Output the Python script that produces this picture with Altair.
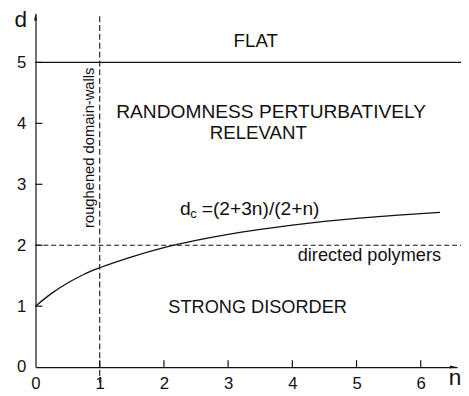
import altair as alt
import pandas as pd

# ---- data ----
n_vals = [0, 0.25, 0.5, 0.75, 1, 1.5, 2, 2.5, 3, 3.5, 4, 4.5, 5, 5.5, 6, 6.3]
dc_vals = [1.0, 1.21, 1.38, 1.52, 1.63, 1.81, 1.96, 2.08, 2.18, 2.26, 2.33, 2.39, 2.44, 2.48, 2.52, 2.54]
x_ticks = [0, 1, 2, 3, 4, 5, 6]
y_ticks = [0, 1, 2, 3, 4, 5]
flat_boundary = 5
polymer_line = 2
domain_wall_line = 1

X_MAX = 6.566
Y_MAX = 5.806
FONT = "Liberation Sans"
INK = "#111111"

xs = alt.Scale(domain=[0, X_MAX], nice=False, zero=False)
ys = alt.Scale(domain=[0, Y_MAX], nice=False, zero=False)
X_AXIS = alt.Axis(values=x_ticks, ticks=False, tickSize=0, labelPadding=9, labelFontSize=17,
                  labelFont=FONT, labelColor=INK, domainColor=INK, domainWidth=1.2,
                  grid=False, title=None, labelFlush=False, labelOverlap=False)
Y_AXIS = alt.Axis(values=y_ticks, ticks=False, tickSize=0, labelPadding=10, labelFontSize=17,
                  labelFont=FONT, labelColor=INK, domainColor=INK, domainWidth=1.2,
                  grid=False, title=None, labelFlush=False, labelOverlap=False)


def one():
    return alt.Data(values=[{"a": 1}])


def X(v):
    return alt.X(datum=v, scale=xs, axis=X_AXIS)


def Y(v):
    return alt.Y(datum=v, scale=ys, axis=Y_AXIS)


curve_df = pd.DataFrame({"n": n_vals, "d": dc_vals})
curve = alt.Chart(curve_df).mark_line(color=INK, strokeWidth=1.3, interpolate="monotone").encode(
    x=alt.X("n:Q", scale=xs, axis=X_AXIS),
    y=alt.Y("d:Q", scale=ys, axis=Y_AXIS),
)

flat_rule = alt.Chart(one()).mark_rule(color=INK, strokeWidth=1.2).encode(
    y=Y(flat_boundary), x=alt.value(0), x2=alt.value(433))
dp_rule = alt.Chart(one()).mark_rule(color=INK, strokeWidth=1.1, strokeDash=[5, 3]).encode(
    y=Y(polymer_line), x=alt.value(0), x2=alt.value(433))
dw_rule = alt.Chart(one()).mark_rule(color=INK, strokeWidth=1.1, strokeDash=[6, 3]).encode(
    x=X(domain_wall_line), y=alt.value(3), y2=alt.value(376))

# inward tick marks
ytick_df = pd.DataFrame({"v": y_ticks[1:]})
xtick_df = pd.DataFrame({"v": x_ticks[1:]})
yticks = alt.Chart(ytick_df).mark_rule(color=INK, strokeWidth=1.2).encode(
    y=alt.Y("v:Q", scale=ys, axis=Y_AXIS), x=alt.value(0), x2=alt.value(7))
xticks = alt.Chart(xtick_df).mark_rule(color=INK, strokeWidth=1.2).encode(
    x=alt.X("v:Q", scale=xs, axis=X_AXIS), y=alt.value(360), y2=alt.value(353))

# arrowheads
arrow_up = alt.Chart(one()).mark_point(shape="M0,-1L0.45,1L-0.45,1Z", filled=True, size=45,
                                        color=INK, opacity=1).encode(
    x=alt.value(0), y=alt.value(4))
arrow_right = alt.Chart(one()).mark_point(shape="M1,0L-1,0.45L-1,-0.45Z", filled=True, size=45,
                                           color=INK, opacity=1).encode(
    x=alt.value(425), y=alt.value(360))


def label(text, x, y, size=19, align="center", baseline="middle", angle=0):
    return alt.Chart(one()).mark_text(text=text, font=FONT, fontSize=size, color=INK,
                                      align=align, baseline=baseline, angle=angle).encode(
        x=X(x), y=Y(y))


texts = [
    label("FLAT", 3.43, 5.35),
    label("RANDOMNESS PERTURBATIVELY", 3.67, 4.19, size=19.5),
    label("RELEVANT", 3.47, 3.84),
    label("STRONG DISORDER", 3.46, 0.98, size=18.5),
    label("directed polymers", 5.2, 1.83, size=18.5),
    label("roughened domain-walls", 0.83, 3.6, size=15, angle=270),
    label("d", 2.25, 2.5, size=19.5, align="left", baseline="alphabetic"),
    label("c", 2.41, 2.45, size=13, align="left", baseline="alphabetic"),
    label("=(2+3n)/(2+n)", 2.59, 2.5, size=19.5, align="left", baseline="alphabetic"),
]

d_title = alt.Chart(one()).mark_text(text="d", font=FONT, fontSize=23, color=INK,
                                     align="center", baseline="middle").encode(
    x=alt.value(-15), y=alt.value(7))
n_title = alt.Chart(one()).mark_text(text="n", font=FONT, fontSize=23, color=INK,
                                     align="center", baseline="alphabetic").encode(
    x=alt.value(427), y=alt.value(378))

chart = alt.layer(
    flat_rule, dp_rule, dw_rule, curve, yticks, xticks, arrow_up, arrow_right,
    *texts, d_title, n_title
).properties(
    width=429, height=360,
    padding={"left": 28, "top": 2, "right": 4, "bottom": 26},
    autosize=alt.AutoSizeParams(type="none"),
).configure_view(stroke=None)

chart.save("out.html", embed_options={"renderer": "svg", "actions": False})
